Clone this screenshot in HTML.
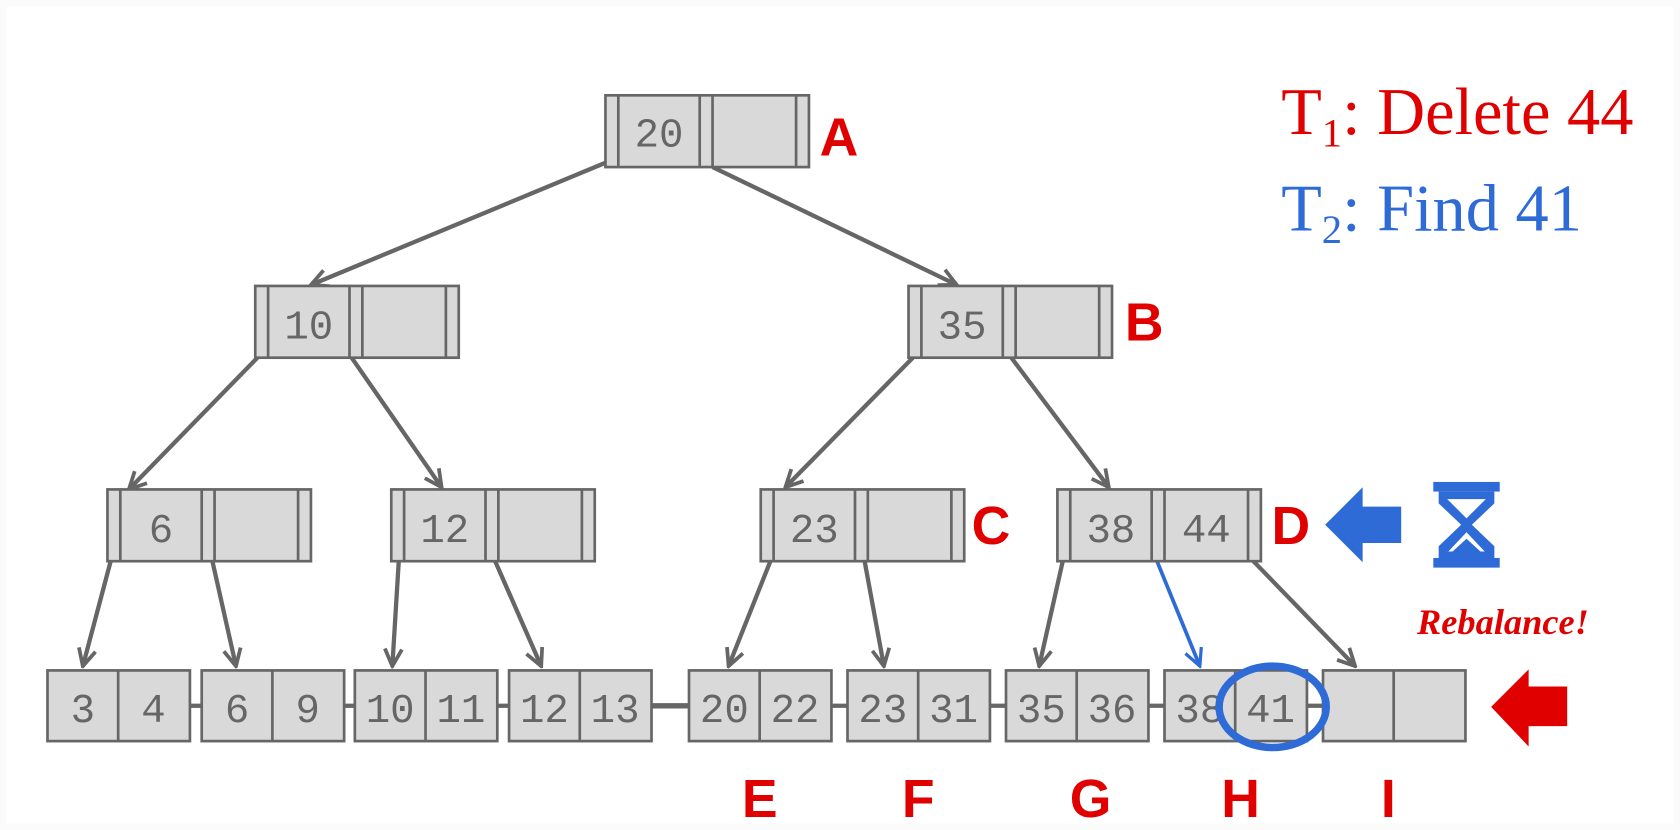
<!DOCTYPE html>
<html><head><style>html,body{margin:0;padding:0;background:#fbfbfb}svg{display:block}</style></head><body>
<svg width="1680" height="830" viewBox="0 0 1568 775" xmlns="http://www.w3.org/2000/svg">
<defs>
<marker id="ah" viewBox="0 0 20 20" refX="18" refY="10" markerWidth="20" markerHeight="20" markerUnits="userSpaceOnUse" orient="auto"><path d="M2,2 L18,10 L2,18" fill="none" stroke="#666" stroke-width="3.5"/></marker>
<marker id="ahb" viewBox="0 0 20 20" refX="18" refY="10" markerWidth="20" markerHeight="20" markerUnits="userSpaceOnUse" orient="auto"><path d="M2,2 L18,10 L2,18" fill="none" stroke="#2e6bd6" stroke-width="3"/></marker>
</defs>
<rect x="6" y="6" width="1556" height="763" fill="#fff"/>
<g stroke="#666" stroke-width="4" fill="none" marker-end="url(#ah)">
<line x1="565" y1="152" x2="290" y2="266"/>
<line x1="665" y1="156" x2="893" y2="266"/>
<line x1="240" y1="334" x2="120" y2="457"/>
<line x1="328" y1="334" x2="412" y2="455"/>
<line x1="852" y1="334" x2="733" y2="455"/>
<line x1="944" y1="334" x2="1035" y2="455"/>
<line x1="103" y1="524" x2="77" y2="622"/>
<line x1="198" y1="524" x2="220" y2="622"/>
<line x1="372" y1="524" x2="366" y2="622"/>
<line x1="462" y1="524" x2="505" y2="622"/>
<line x1="719" y1="524" x2="680" y2="622"/>
<line x1="807" y1="524" x2="825" y2="622"/>
<line x1="992" y1="524" x2="970" y2="622"/>
<line x1="1170" y1="524" x2="1265" y2="622"/>
</g>
<line x1="1080" y1="524" x2="1120" y2="622" stroke="#2e6bd6" stroke-width="3.5" marker-end="url(#ahb)"/>
<g stroke="#666" stroke-width="4">
<line x1="177" y1="659" x2="188" y2="659"/><line x1="321" y1="659" x2="331" y2="659"/><line x1="464" y1="659" x2="475" y2="659"/>
<line x1="608" y1="659" x2="643" y2="659" stroke-width="5"/><line x1="776" y1="659" x2="791" y2="659"/><line x1="924" y1="659" x2="939" y2="659"/><line x1="1072" y1="659" x2="1087" y2="659"/><line x1="1220" y1="659" x2="1235" y2="659"/>
</g>
<g fill="#d9d9d9" stroke="#666" stroke-width="2.5">
<g transform="translate(565,89)"><rect width="190" height="67"/><path d="M12,0V67M88,0V67M100,0V67M178,0V67" fill="none"/></g>
<g transform="translate(238,267)"><rect width="190" height="67"/><path d="M12,0V67M88,0V67M100,0V67M178,0V67" fill="none"/></g>
<g transform="translate(848,267)"><rect width="190" height="67"/><path d="M12,0V67M88,0V67M100,0V67M178,0V67" fill="none"/></g>
<g transform="translate(100,457)"><rect width="190" height="67"/><path d="M12,0V67M88,0V67M100,0V67M178,0V67" fill="none"/></g>
<g transform="translate(365,457)"><rect width="190" height="67"/><path d="M12,0V67M88,0V67M100,0V67M178,0V67" fill="none"/></g>
<g transform="translate(710,457)"><rect width="190" height="67"/><path d="M12,0V67M88,0V67M100,0V67M178,0V67" fill="none"/></g>
<g transform="translate(987,457)"><rect width="190" height="67"/><path d="M12,0V67M88,0V67M100,0V67M178,0V67" fill="none"/></g>
</g>
<g fill="#d9d9d9" stroke="#666" stroke-width="2.5">
<rect x="44" y="626" width="133" height="66"/><line x1="110" y1="626" x2="110" y2="692"/>
<rect x="188" y="626" width="133" height="66"/><line x1="254" y1="626" x2="254" y2="692"/>
<rect x="331" y="626" width="133" height="66"/><line x1="397" y1="626" x2="397" y2="692"/>
<rect x="475" y="626" width="133" height="66"/><line x1="541" y1="626" x2="541" y2="692"/>
<rect x="643" y="626" width="133" height="66"/><line x1="709" y1="626" x2="709" y2="692"/>
<rect x="791" y="626" width="133" height="66"/><line x1="857" y1="626" x2="857" y2="692"/>
<rect x="939" y="626" width="133" height="66"/><line x1="1005" y1="626" x2="1005" y2="692"/>
<rect x="1087" y="626" width="133" height="66"/><line x1="1153" y1="626" x2="1153" y2="692"/>
<rect x="1235" y="626" width="133" height="66"/><line x1="1301" y1="626" x2="1301" y2="692"/>
</g>
<g font-family="Liberation Mono, DejaVu Sans Mono, monospace" font-size="38" fill="#666" text-anchor="middle">
<text x="615" y="137">20</text>
<text x="288" y="316">10</text><text x="898" y="316">35</text>
<text x="150" y="506">6</text><text x="415" y="506">12</text><text x="760" y="506">23</text><text x="1037" y="506">38</text><text x="1126" y="506">44</text>
<text x="77" y="674">3</text><text x="143" y="674">4</text><text x="221" y="674">6</text><text x="287" y="674">9</text>
<text x="364" y="674">10</text><text x="430" y="674">11</text><text x="508" y="674">12</text><text x="574" y="674">13</text>
<text x="676" y="674">20</text><text x="742" y="674">22</text><text x="824" y="674">23</text><text x="890" y="674">31</text>
<text x="972" y="674">35</text><text x="1038" y="674">36</text><text x="1120" y="674">38</text><text x="1186" y="674">41</text>
</g>
<ellipse cx="1188" cy="660" rx="50" ry="38" fill="none" stroke="#2e6bd6" stroke-width="7"/>
<g font-family="Liberation Sans, sans-serif" font-weight="bold" font-size="50" fill="#e00000" text-anchor="middle">
<text x="783" y="145">A</text><text x="1068" y="318">B</text><text x="925" y="508">C</text><text x="1205" y="508">D</text>
<text x="709" y="763">E</text><text x="857" y="763">F</text><text x="1018" y="763">G</text><text x="1158" y="763">H</text><text x="1296" y="763">I</text>
</g>
<g font-family="Liberation Serif, serif" font-size="62">
<text x="1196" y="125" fill="#e00000">T<tspan font-size="38" dy="12">1</tspan><tspan dy="-12">: Delete 44</tspan></text>
<text x="1196" y="215" fill="#2e6bd6">T<tspan font-size="38" dy="12">2</tspan><tspan dy="-12">: Find 41</tspan></text>
</g>
<text x="1403" y="592" font-family="Liberation Serif, serif" font-style="italic" font-weight="bold" font-size="34" fill="#e00000" text-anchor="middle">Rebalance!</text>
<path d="M1237,490 L1272,455 L1272,473 L1308,473 L1308,507 L1272,507 L1272,525 Z" fill="#2e6bd6"/>
<path d="M1392,660 L1427,625 L1427,641 L1463,641 L1463,678 L1427,678 L1427,697 Z" fill="#e00000"/>
<g fill="#2e6bd6">
<rect x="1338" y="450" width="62" height="9"/><rect x="1338" y="521" width="62" height="9"/>
<path d="M1343,459 L1395,459 L1395,470 L1374,490 L1395,510 L1395,521 L1343,521 L1343,510 L1364,490 L1343,470 Z"/>
<path d="M1351,466 L1387,466 L1369,484 Z M1369,497 L1386,515 L1352,515 Z" fill="#fff"/>
<path d="M1356,515 L1369,503 L1382,515 Z"/>
</g>
</svg>
</body></html>
